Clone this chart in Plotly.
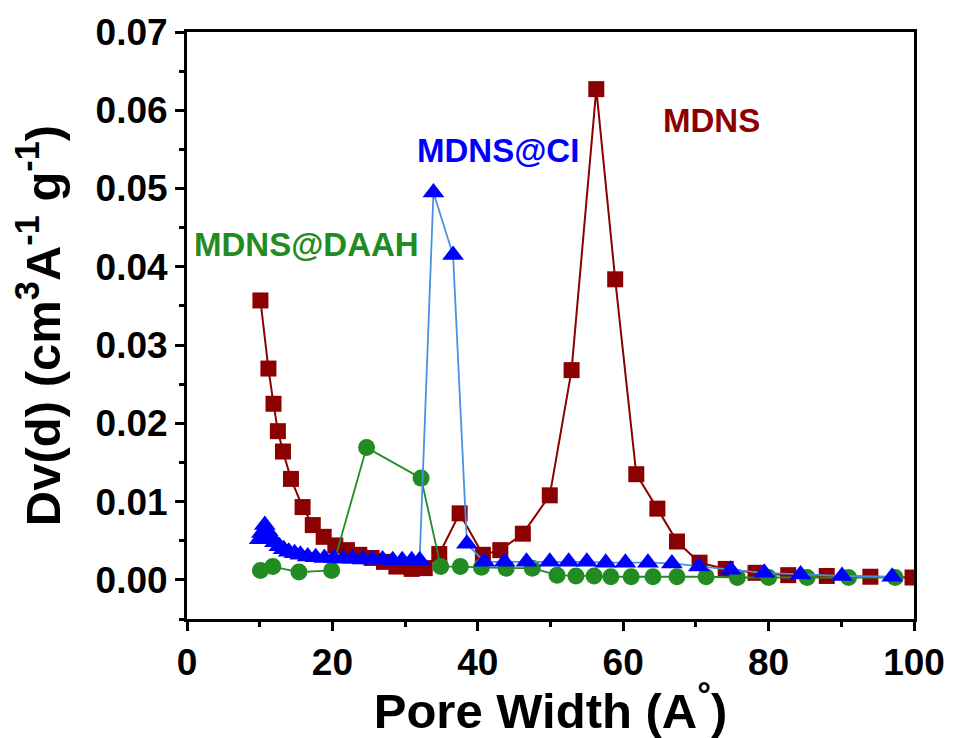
import plotly.graph_objects as go

# ---- data ----
mdns_x = [10.1, 11.2, 11.9, 12.5, 13.2, 14.3, 15.9, 17.3, 18.8, 20.4, 22.0, 23.7, 25.4, 27.1, 28.8,
          30.9, 32.7, 34.7, 37.5, 40.7, 43.1, 46.2, 49.9, 52.9, 56.3, 58.9, 61.8, 64.7, 67.4,
          70.5, 74.1, 78.2, 82.7, 88.0, 94.0, 99.8]
mdns_y = [0.0357, 0.0270, 0.0225, 0.0190, 0.0164, 0.0129, 0.0093, 0.0070, 0.0055, 0.0044, 0.0038,
          0.0032, 0.0028, 0.0023, 0.0017, 0.0014, 0.0015, 0.0033, 0.0085, 0.0032, 0.0038, 0.0059,
          0.0108, 0.0268, 0.0627, 0.0384, 0.0135, 0.0091, 0.0049, 0.0022, 0.0014, 0.0009, 0.0006,
          0.0005, 0.0004, 0.0003]

ci_x = [10.0, 10.3, 10.7, 11.1, 11.6, 12.1, 12.7, 13.3, 14.0, 14.8, 15.6, 16.6, 17.7, 18.9, 20.2,
        21.5, 22.8, 24.2, 25.5, 26.9, 28.3, 29.6, 30.9, 32.0, 33.9, 36.6, 38.5, 40.9, 43.7, 46.7,
        49.9, 52.5, 55.0, 57.6, 60.3, 63.4, 66.7, 70.4, 74.8, 79.4, 84.4, 90.1, 97.0]
ci_y = [0.0052, 0.0060, 0.0070, 0.0062, 0.0054, 0.0048, 0.0043, 0.0039, 0.0036, 0.0034, 0.0032,
        0.0030, 0.0029, 0.0028, 0.0028, 0.0027, 0.0027, 0.0026, 0.0026, 0.0026, 0.0025, 0.0025,
        0.0025, 0.0025, 0.0495, 0.0415, 0.0046, 0.0023, 0.0023, 0.0023, 0.0023, 0.0023, 0.0023,
        0.0022, 0.0022, 0.0022, 0.0021, 0.0017, 0.0013, 0.0009, 0.0007, 0.0005, 0.0004]

daah_x = [10.1, 11.8, 15.4, 19.9, 24.7, 32.2, 34.9, 37.6, 40.5, 43.9, 47.5, 50.9, 53.5, 56.0,
          58.3, 61.1, 64.1, 67.4, 71.4, 75.7, 80.0, 85.3, 91.0, 97.4]
daah_y = [0.0012, 0.0017, 0.0010, 0.0012, 0.0169, 0.0130, 0.0017, 0.0017, 0.0016, 0.0015, 0.0015,
          0.0006, 0.0005, 0.0005, 0.0004, 0.0004, 0.0004, 0.0004, 0.0004, 0.0003, 0.0003, 0.0003,
          0.0003, 0.0003]

labels = ["MDNS", "MDNS@CI", "MDNS@DAAH"]
label_x = [72.2, 42.8, 16.4]
label_y = [0.0587, 0.0549, 0.0429]

x_ticks = [0, 20, 40, 60, 80, 100]
y_ticks = [0.00, 0.01, 0.02, 0.03, 0.04, 0.05, 0.06, 0.07]

RED = "#8B0000"
BLUE = "#0000FF"
LBLUE = "#4A90E2"
GREEN = "#228B22"
FONT = "Liberation Sans"

fig = go.Figure()
fig.add_trace(go.Scatter(x=mdns_x, y=mdns_y, mode="lines+markers", name="MDNS",
                         line=dict(color=RED, width=2),
                         marker=dict(symbol="square", size=16, color=RED)))
fig.add_trace(go.Scatter(x=daah_x, y=daah_y, mode="lines+markers", name="MDNS@DAAH",
                         line=dict(color=GREEN, width=1.8),
                         marker=dict(symbol="circle", size=17, color=GREEN)))
fig.add_trace(go.Scatter(x=ci_x, y=ci_y, mode="lines+markers", name="MDNS@CI",
                         line=dict(color=LBLUE, width=1.8),
                         marker=dict(symbol="triangle-up", size=19, color=BLUE)))

label_colors = [RED, BLUE, GREEN]
for t, lx, ly, c in zip(labels, label_x, label_y, label_colors):
    fig.add_annotation(x=lx, y=ly, text=t, showarrow=False,
                       font=dict(family=FONT, size=33, color=c, weight="bold"))

axis_common = dict(showline=True, linecolor="black", linewidth=3, mirror=True,
                   ticks="outside", ticklen=9, tickwidth=3, tickcolor="black",
                   showgrid=False, zeroline=False,
                   tickfont=dict(family=FONT, size=37, color="black", weight="bold"))

fig.update_xaxes(range=[0, 100], tickvals=x_ticks, ticktext=[str(v) for v in x_ticks],
                 minor=dict(ticks="outside", ticklen=5, tickwidth=3, tickcolor="black", dtick=10),
                 title=dict(text="Pore Width (A<sup>°</sup>)", standoff=8,
                            font=dict(family=FONT, size=49, color="black", weight="bold")),
                 **axis_common)
fig.update_yaxes(range=[-0.005, 0.07], tickvals=y_ticks, tickformat=".2f",
                 minor=dict(ticks="outside", ticklen=5, tickwidth=3, tickcolor="black", dtick=0.005,
                            tick0=0),
                 title=dict(text="Dv(d) (cm<sup>3</sup>A<sup>-1</sup> g<sup>-1</sup>)", standoff=20,
                            font=dict(family=FONT, size=49, color="black", weight="bold")),
                 **axis_common)

fig.update_layout(width=957, height=738, showlegend=False,
                  plot_bgcolor="white", paper_bgcolor="white",
                  margin=dict(l=187, r=36, t=29, b=117, pad=0),
                  font=dict(family=FONT))

fig.write_html("out.html")
